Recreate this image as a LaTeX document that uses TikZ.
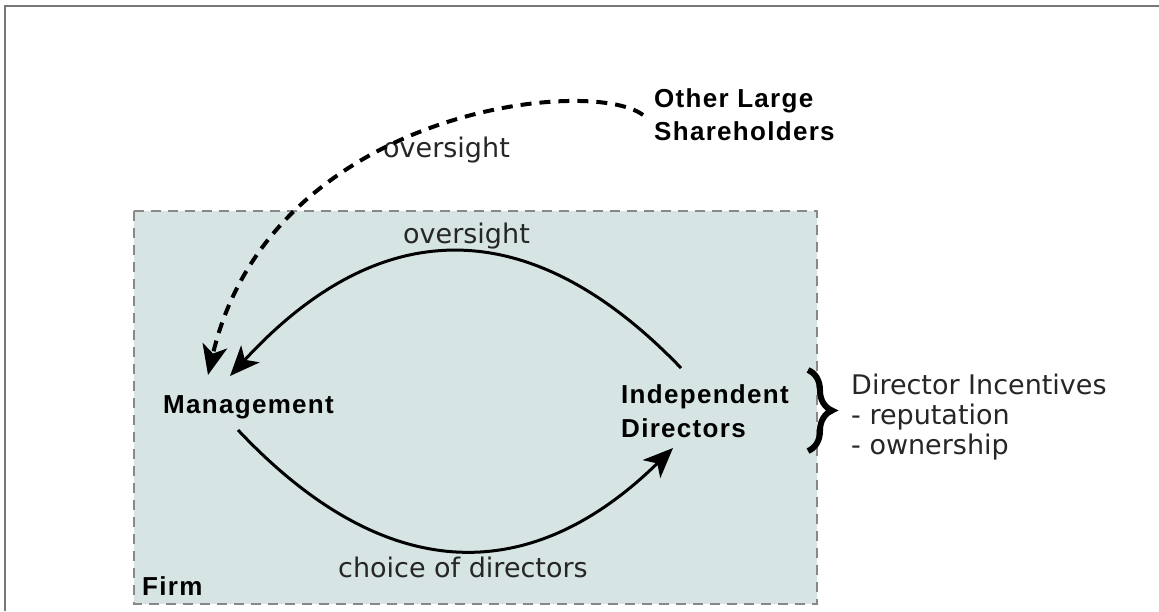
\documentclass[tikz,border=0pt]{standalone}
\usepackage{fontspec}
\setmainfont{DejaVu Sans}
\newfontfamily\headfont{Liberation Sans}[LetterSpace=5]
\usetikzlibrary{arrows.meta,calc,decorations.pathreplacing}
\definecolor{firmfill}{RGB}{214,228,228}
\definecolor{firmline}{RGB}{136,136,136}
\definecolor{framecol}{RGB}{120,120,120}
\begin{document}
\begin{tikzpicture}[x=1pt,y=-1pt,
  boldlabel/.style={font=\headfont\bfseries\fontsize{26}{34}\selectfont, inner sep=0pt, align=left},
  plainlabel/.style={font=\fontsize{27}{30}\selectfont, text=black!85, inner sep=0pt, align=left},
  flow/.style={line width=3pt, -{Stealth[length=30pt,width=25pt,inset=8pt]}},
  dashflow/.style={line width=4pt, dash pattern=on 11pt off 8pt, -{Stealth[length=30pt,width=25pt,inset=8pt]}}
]
\useasboundingbox (0,0) rectangle (1159,611);
% outer frame (cut off at right and bottom)
\draw[framecol, line width=2pt] (5,611) -- (5,6) -- (1159,6);
% firm box
\draw[firmline, dash pattern=on 10pt off 7pt, line width=2pt, fill=firmfill] (134,211) rectangle (817,604);

% nodes
\node[boldlabel, anchor=base west] (man) at (163,413) {Management};
\node[boldlabel, anchor=north west] (ind) at (621,384) {Independent\\Directors};
\node[boldlabel, anchor=north west, font=\headfont\bfseries\fontsize{26}{33}\selectfont] (sh) at (654,88) {Other Large\\Shareholders};
\node[boldlabel, anchor=base west] (firm) at (142,595) {Firm};
\node[plainlabel, anchor=base west] (ov1) at (383,157) {oversight};
\node[plainlabel, anchor=base west] (ov2) at (403,243) {oversight};
\node[plainlabel, anchor=base west] (cod) at (338,577) {choice of directors};
\node[plainlabel, anchor=north west] (inc) at (851,374) {Director Incentives\\- reputation\\- ownership};

% connectors
\draw[flow] ($(ind.north west)+(60,-16)$) .. controls ($(ind.north west)+(-91,-173)$) and ($(man.base west)+(217,-200)$) .. ($(man.base west)+(67,-37)$);
\draw[flow] ($(man.base west)+(75,17)$) .. controls ($(man.base west)+(220,171)$) and ($(ind.north west)+(-93,206)$) .. ($(ind.north west)+(52,64)$);
\draw[dashflow] ($(sh.north west)+(-11,27)$) .. controls ($(sh.north west)+(-64,-13)$) and ($(man.base west)+(107,-303)$) .. ($(man.base west)+(45,-38)$);

% brace
\draw[decorate, decoration={brace, amplitude=24pt}, line width=6pt] (808,370) -- (808,451);
\end{tikzpicture}
\end{document}
